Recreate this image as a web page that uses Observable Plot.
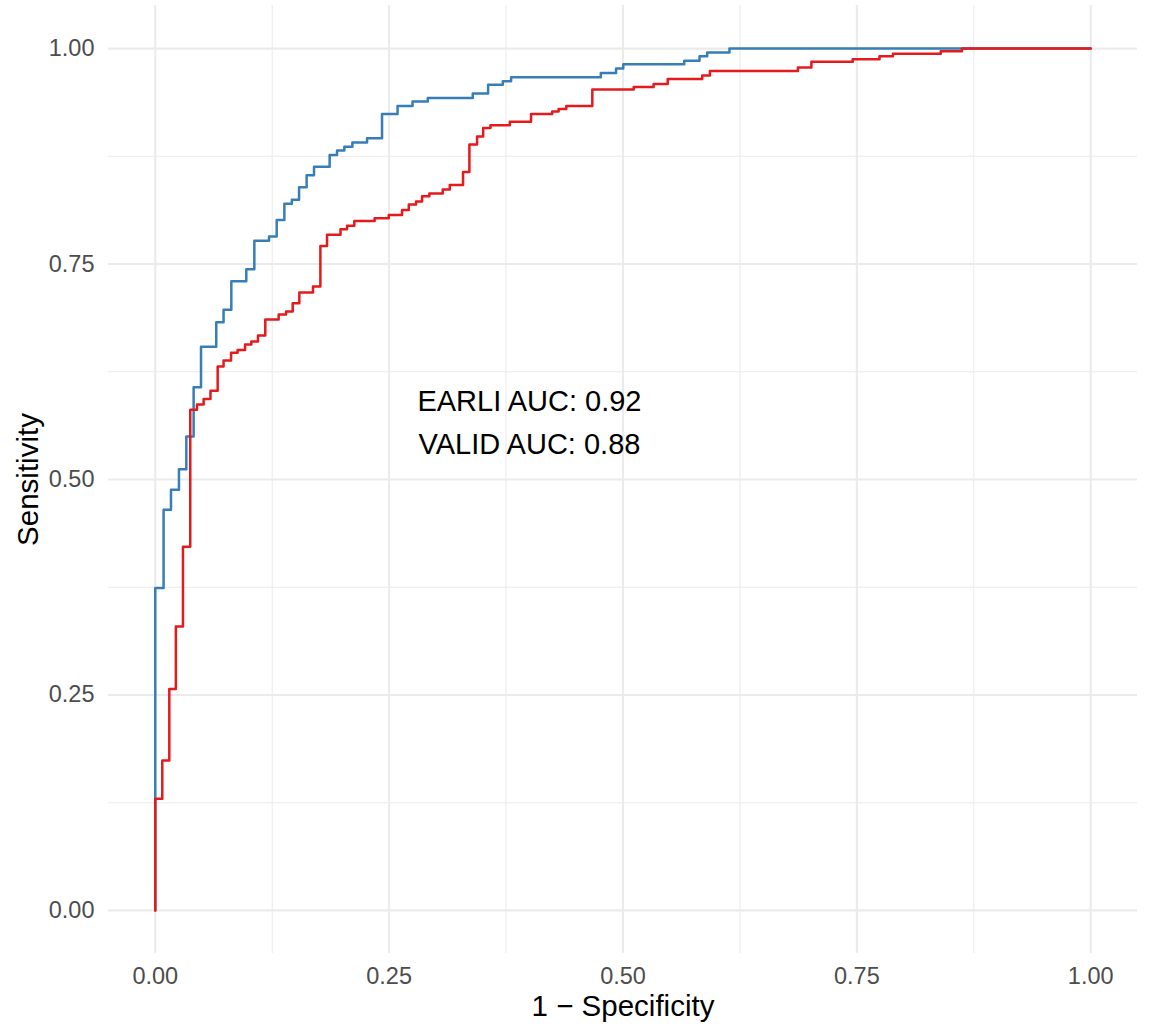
<!DOCTYPE html>
<html>
<head>
<meta charset="utf-8">
<script src="https://cdn.jsdelivr.net/npm/d3@7"></script>
<script src="https://cdn.jsdelivr.net/npm/@observablehq/plot@0.6"></script>
<style>
  html, body { margin: 0; padding: 0; background: #ffffff; }
  #chart svg { display: block; }
</style>
</head>
<body>
<div id="chart"></div>
<script>
// ---- Data ----
const earliFpr = [0, 0, 0.0089, 0.0168, 0.0253, 0.0332, 0.041, 0.0489, 0.0652, 0.073, 0.0813, 0.0973, 0.1059, 0.1216, 0.1298, 0.138, 0.146, 0.1537, 0.1618, 0.1697, 0.1864, 0.1943, 0.2021, 0.2107, 0.2264, 0.2424, 0.259, 0.275, 0.2913, 0.3394, 0.3558, 0.3715, 0.3804, 0.4763, 0.4926, 0.5003, 0.5655, 0.5818, 0.590, 0.6138, 1];
const earliTpr = [0, 0.374, 0.465, 0.488, 0.512, 0.550, 0.607, 0.654, 0.6825, 0.697, 0.730, 0.744, 0.777, 0.782, 0.801, 0.820, 0.8245, 0.839, 0.853, 0.863, 0.8766, 0.8817, 0.886, 0.891, 0.896, 0.924, 0.9335, 0.9385, 0.9428, 0.948, 0.958, 0.962, 0.9667, 0.9718, 0.9768, 0.9817, 0.986, 0.991, 0.9954, 1, 1];

const validFpr = [0, 0, 0.0075, 0.015, 0.022, 0.0296, 0.0374, 0.0446, 0.0517, 0.059, 0.0667, 0.073, 0.081, 0.088, 0.096, 0.1027, 0.1098, 0.1176, 0.1319, 0.1398, 0.1469, 0.154, 0.1686, 0.1765, 0.1836, 0.198, 0.205, 0.2128, 0.2345, 0.2496, 0.2638, 0.271, 0.2788, 0.2852, 0.293, 0.3073, 0.3148, 0.329, 0.3358, 0.344, 0.3505, 0.3583, 0.379, 0.4017, 0.4243, 0.4312, 0.4394, 0.4672, 0.5114, 0.5327, 0.5478, 0.5847, 0.5929, 0.687, 0.7014, 0.7456, 0.7742, 0.7886, 0.8397, 0.8623, 1];
const validTpr = [0, 0.1295, 0.174, 0.257, 0.3295, 0.422, 0.581, 0.587, 0.5935, 0.603, 0.631, 0.638, 0.647, 0.6504, 0.6566, 0.660, 0.667, 0.6856, 0.6914, 0.695, 0.7045, 0.717, 0.724, 0.771, 0.784, 0.7904, 0.7943, 0.800, 0.803, 0.807, 0.8128, 0.819, 0.8225, 0.8286, 0.8318, 0.8364, 0.8418, 0.8569, 0.8886, 0.898, 0.908, 0.911, 0.915, 0.924, 0.927, 0.930, 0.9335, 0.9524, 0.9555, 0.959, 0.9648, 0.9687, 0.974, 0.978, 0.9846, 0.9876, 0.991, 0.994, 0.997, 1, 1];

const majorTicks = [0, 0.25, 0.5, 0.75, 1];
const minorTicks = [0.125, 0.375, 0.625, 0.875];
const tickLabels = ["0.00", "0.25", "0.50", "0.75", "1.00"];

const annoLabels = ["EARLI AUC: 0.92", "VALID AUC: 0.88"];
const annoX = [0.4, 0.4];
const annoY = [0.59, 0.54];

const xTitle = "1 \u2212 Specificity";
const yTitle = "Sensitivity";

// ---- Build tables ----
const earli = earliFpr.map((x, i) => ({x, y: earliTpr[i]}));
const valid = validFpr.map((x, i) => ({x, y: validTpr[i]}));
const annos = annoLabels.map((t, i) => ({t, x: annoX[i], y: annoY[i]}));
const fmt = v => tickLabels[majorTicks.indexOf(v)];

const gridColor = "#EBEBEB";

const chart = Plot.plot({
  width: 1149,
  height: 1026,
  marginLeft: 108,
  marginRight: 12,
  marginTop: 5,
  marginBottom: 73,
  style: {fontFamily: "'Liberation Sans', Arial, Helvetica, sans-serif", background: "#ffffff"},
  x: {domain: [-0.05, 1.05]},
  y: {domain: [-0.05, 1.05]},
  marks: [
    Plot.gridX(minorTicks, {stroke: gridColor, strokeOpacity: 1, strokeWidth: 1.1}),
    Plot.gridY(minorTicks, {stroke: gridColor, strokeOpacity: 1, strokeWidth: 1.1}),
    Plot.gridX(majorTicks, {stroke: gridColor, strokeOpacity: 1, strokeWidth: 2.1}),
    Plot.gridY(majorTicks, {stroke: gridColor, strokeOpacity: 1, strokeWidth: 2.1}),
    Plot.axisX({ticks: majorTicks, tickFormat: fmt, tickSize: 0, tickPadding: 14, fontSize: 23.5, fill: "#4D4D4D", label: null}),
    Plot.axisY({ticks: majorTicks, tickFormat: fmt, tickSize: 0, tickPadding: 14, fontSize: 23.5, fill: "#4D4D4D", label: null}),
    Plot.line(earli, {x: "x", y: "y", curve: "step-after", stroke: "#377EB8", strokeWidth: 2.5}),
    Plot.line(valid, {x: "x", y: "y", curve: "step-after", stroke: "#E41A1C", strokeWidth: 2.5}),
    Plot.text(annos, {x: "x", y: "y", text: "t", fontSize: 29, fill: "#000000", textAnchor: "middle", lineAnchor: "middle"}),
    Plot.text([xTitle], {frameAnchor: "bottom", dy: 53, textAnchor: "middle", lineAnchor: "middle", fontSize: 29.5, fill: "#000000"}),
    Plot.text([yTitle], {frameAnchor: "left", dx: -80, rotate: -90, textAnchor: "middle", lineAnchor: "middle", fontSize: 29.5, fill: "#000000"})
  ]
});

document.getElementById("chart").appendChild(chart);
</script>
</body>
</html>
